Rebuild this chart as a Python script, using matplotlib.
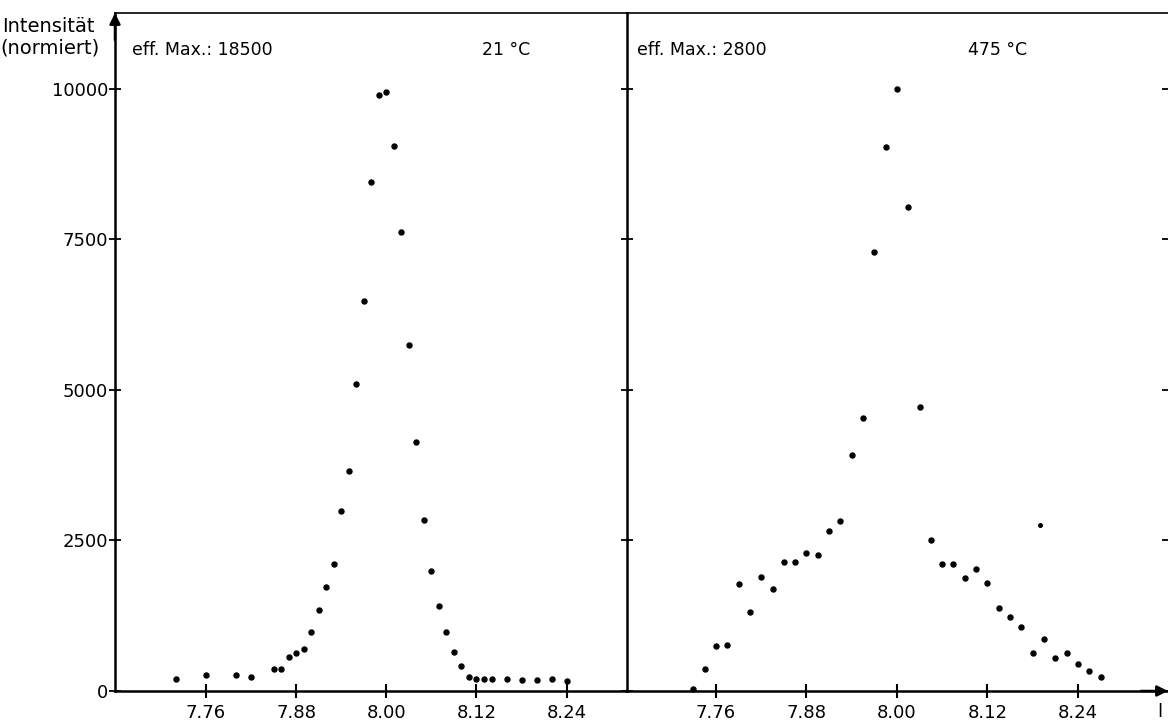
import matplotlib
matplotlib.use("Agg")
import matplotlib.pyplot as plt

# ---------------- data ----------------
# left panel: 21 °C, eff. Max.: 18500
x_21 = [7.72, 7.76, 7.80, 7.82, 7.85, 7.86, 7.87, 7.88, 7.89, 7.90, 7.91, 7.92, 7.93,
        7.94, 7.95, 7.96, 7.97, 7.98, 7.99, 8.00, 8.01, 8.02, 8.03, 8.04, 8.05, 8.06,
        8.07, 8.08, 8.09, 8.10, 8.11, 8.12, 8.13, 8.14, 8.16, 8.18, 8.20, 8.22, 8.24]
y_21 = [195, 265, 270, 230, 370, 365, 565, 635, 695, 985, 1340, 1720, 2105,
        2995, 3650, 5100, 6480, 8455, 9905, 9950, 9050, 7625, 5750, 4135, 2840, 1995,
        1415, 985, 650, 420, 230, 195, 205, 205, 195, 180, 180, 195, 160]

# right panel: 475 °C, eff. Max.: 2800
x_475 = [7.730, 7.745, 7.760, 7.775, 7.790, 7.805, 7.820, 7.835, 7.850, 7.865, 7.880,
         7.895, 7.910, 7.925, 7.940, 7.955, 7.970, 7.985, 8.000, 8.015, 8.030, 8.045,
         8.060, 8.075, 8.090, 8.105, 8.120, 8.135, 8.150, 8.165, 8.180, 8.195, 8.210,
         8.225, 8.240, 8.255, 8.270]
y_475 = [30, 360, 750, 760, 1770, 1320, 1890, 1690, 2150, 2150, 2290,
         2260, 2650, 2820, 3920, 4540, 7300, 9030, 10000, 8040, 4710, 2510,
         2110, 2110, 1880, 2030, 1790, 1380, 1230, 1070, 630, 860, 540,
         630, 450, 330, 230]
# single odd point (smaller dot)
x_475_extra = [8.19]
y_475_extra = [2760]

x_ticks = [7.76, 7.88, 8.00, 8.12, 8.24]
x_ticklabels = ["7.76", "7.88", "8.00", "8.12", "8.24"]
y_ticks = [0, 2500, 5000, 7500, 10000]
y_ticklabels = ["0", "2500", "5000", "7500", "10000"]

# ---------------- figure ----------------
W, H = 1168, 725
fig = plt.figure(figsize=(W / 100, H / 100), dpi=100)
plt.rcParams['font.family'] = ['DejaVu Sans']

top_px, base_px = 13, 691
ax1 = fig.add_axes([115 / W, (H - base_px) / H, 512 / W, (base_px - top_px) / H])
ax2 = fig.add_axes([627 / W, (H - base_px) / H, 541 / W, (base_px - top_px) / H])

ylim = (0, 11262)
ax1.set_xlim(7.639, 8.3203)
ax2.set_xlim(7.642, 8.3595)
for ax in (ax1, ax2):
    ax.set_ylim(*ylim)
    ax.set_xticks(x_ticks)
    ax.set_xticklabels(x_ticklabels)
    ax.set_yticks(y_ticks)
    ax.spines['right'].set_visible(False)
    for s in ('left', 'bottom'):
        ax.spines[s].set_linewidth(1.8)
    ax.spines['top'].set_linewidth(1.2)
    ax.tick_params(axis='x', direction='inout', length=10, width=1.5,
                   labelsize=13, pad=4)
    ax.tick_params(axis='y', direction='inout', length=8, width=1.3,
                   labelsize=13, pad=1)

ax1.set_yticklabels(y_ticklabels)
ax2.tick_params(axis='y', labelleft=False, right=True)

# data points
ax1.plot(x_21, y_21, 'o', color='black', ms=3.6, clip_on=False)
ax2.plot(x_475, y_475, 'o', color='black', ms=3.6, clip_on=False)
ax2.plot(x_475_extra, y_475_extra, 'o', color='black', ms=2.6, clip_on=False)

# axis arrows
ax1.annotate('', xy=(0, 1.0), xytext=(0, 0.96), xycoords='axes fraction',
             arrowprops=dict(arrowstyle='-|>', color='black', lw=1.8,
                             mutation_scale=16, shrinkA=0, shrinkB=0))
ax2.annotate('', xy=(1.0, 0), xytext=(0.95, 0), xycoords='axes fraction',
             arrowprops=dict(arrowstyle='-|>', color='black', lw=1.8,
                             mutation_scale=16, shrinkA=0, shrinkB=0))

# texts
def fx(px):
    return px / W

def fy(py):
    return 1 - py / H

fig.text(fx(2), fy(27), "Intensität", fontsize=14, ha='left', va='center')
fig.text(fx(0), fy(48), "(normiert)", fontsize=14, ha='left', va='center')
fig.text(fx(132), fy(50), "eff. Max.: 18500", fontsize=12.5, ha='left', va='center')
fig.text(fx(482), fy(50), "21 °C", fontsize=12.5, ha='left', va='center')
fig.text(fx(637), fy(50), "eff. Max.: 2800", fontsize=12.5, ha='left', va='center')
fig.text(fx(968), fy(50), "475 °C", fontsize=12.5, ha='left', va='center')
fig.text(fx(1157), fy(712), "l", fontsize=13, ha='left', va='center')

fig.savefig("out.png", dpi=100, facecolor='white')
